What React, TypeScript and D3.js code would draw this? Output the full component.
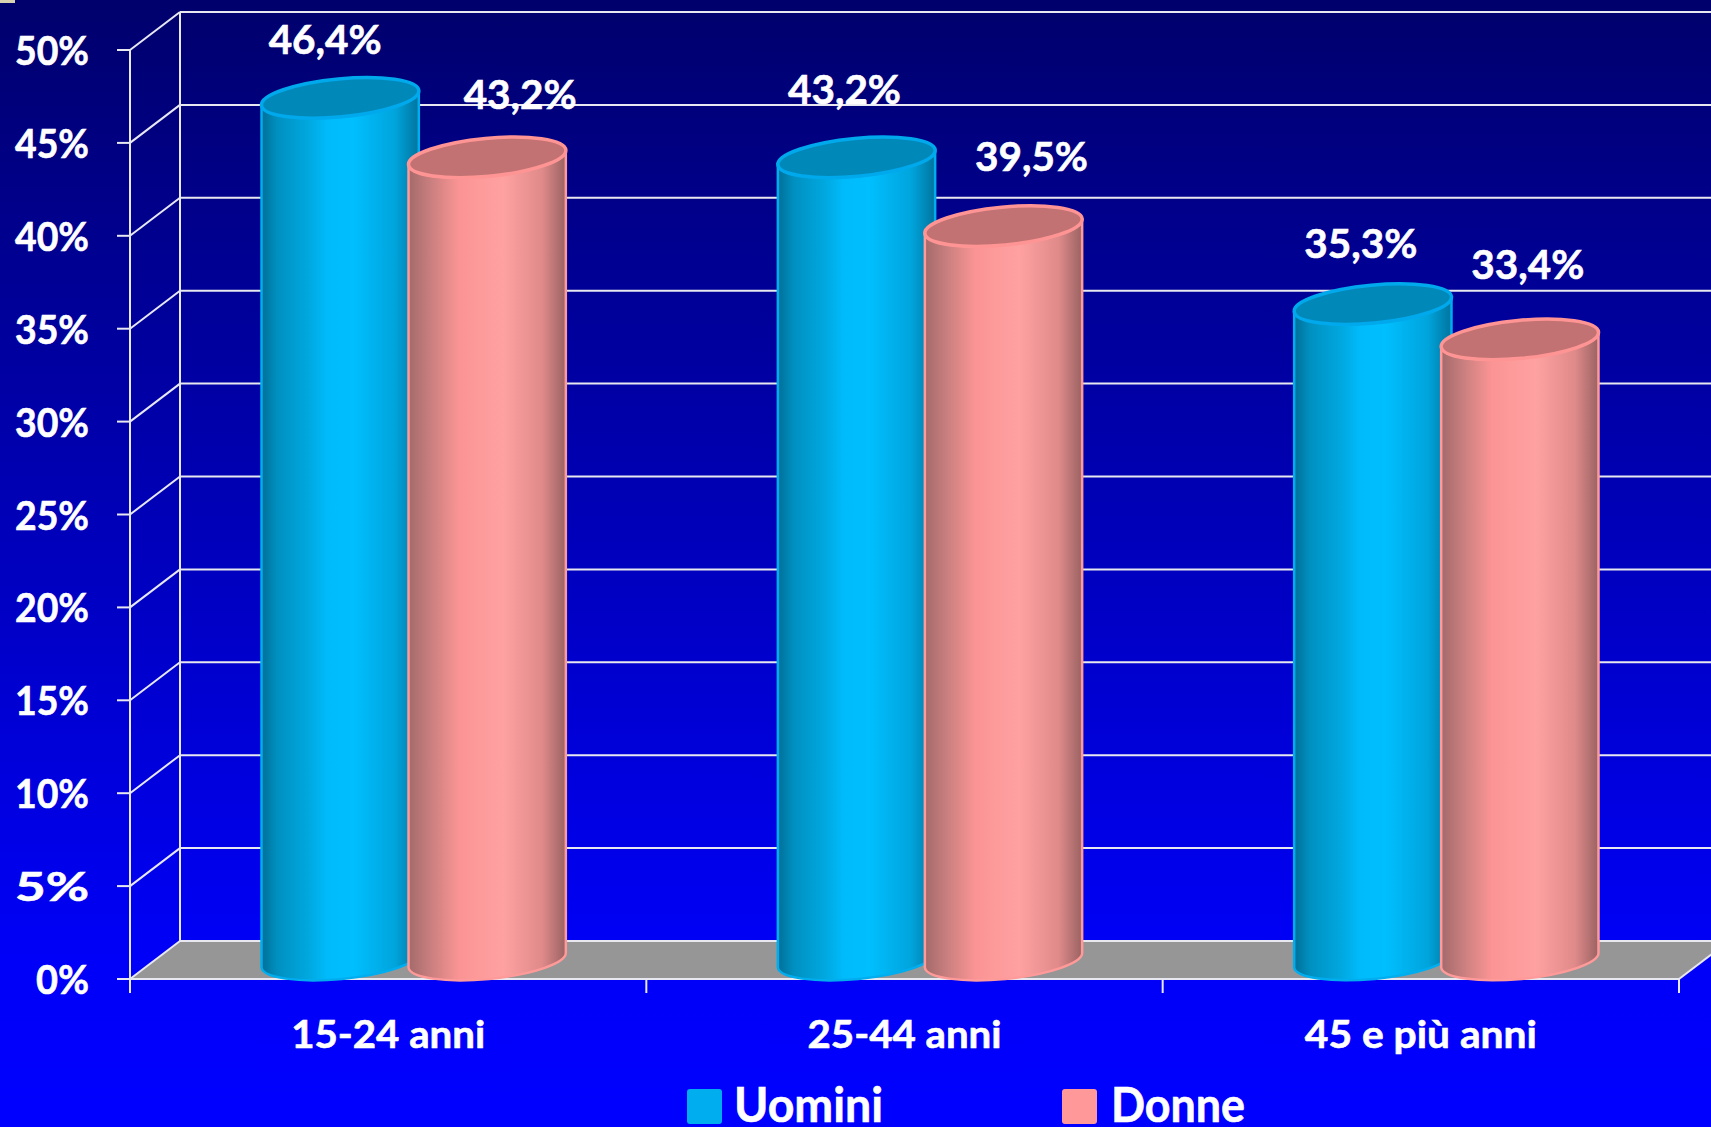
import React from "react";
import * as d3 from "d3";

const categories = ["15-24 anni", "25-44 anni", "45 e più anni"];
const seriesNames = ["Uomini", "Donne"];
const uomini = [46.4, 43.2, 35.3];
const donne = [43.2, 39.5, 33.4];
const yTicks = [0, 5, 10, 15, 20, 25, 30, 35, 40, 45, 50];

const W = 1711, H = 1127;
const FONT = "'Lato','Open Sans',sans-serif";
const depthX = 50, depthY = 38;
const y = d3.scaleLinear().domain([0, 50]).range([979, 50]);
const x = d3.scaleBand<string>().domain(categories).range([130, 1679]);
const fmt = (v: number) => v.toFixed(1).replace(".", ",") + "%";

const rx = 79, ry = 19, tilt = -5.4;
const tr = (tilt * Math.PI) / 180;
const ex = rx * Math.cos(tr), ey = rx * Math.sin(tr);

// label offsets from the bar's centre and value height (layout, not data)
const labelDx = [[-15, 33], [-12, 28], [-12, 8]];
const labelDy = [[-63, -67], [-72, -74], [-65, -79]];
const categoryWidths = [194, 194, 232];
const legendWidths = [149, 134];

function Cyl({ cx, v, kind }: { cx: number; v: number; kind: string }) {
  const top = y(v) - depthY / 2;
  const bot = y(0) - depthY / 2;
  const body = `M${cx - ex},${top - ey} L${cx - ex},${bot - ey} A${rx},${ry} ${tilt} 0 0 ${cx + ex},${bot + ey} L${cx + ex},${top + ey} A${rx},${ry} ${tilt} 0 1 ${cx - ex},${top - ey} Z`;
  const blue = kind === "b";
  return (
    <g>
      <path d={body} fill={`url(#grad-${kind})`} stroke={blue ? "#00aeef" : "#ff9a9a"} strokeWidth={2.5} />
      <ellipse
        cx={cx} cy={top} rx={rx} ry={ry}
        transform={`rotate(${tilt} ${cx} ${top})`}
        fill={blue ? "#0088b8" : "#c27272"}
        stroke={blue ? "#00a8ec" : "#ff9494"} strokeWidth={3.5}
      />
    </g>
  );
}

export default function App() {
  const xs = categories.map((c) => x(c) as number);
  const bw = x.bandwidth();
  const centers = (i: number) => {
    const mid = xs[i] + bw / 2 + depthX / 2;
    return [mid - 73, mid + 74];
  };
  return (
    <svg width={W} height={H} viewBox={`0 0 ${W} ${H}`} style={{ position: "fixed", left: 0, top: 0, display: "block" }}>
      <defs>
        <linearGradient id="bg" x1="0" y1="0" x2="0" y2="1">
          <stop offset="0" stopColor="#00006c" />
          <stop offset="0.85" stopColor="#0000f8" />
          <stop offset="1" stopColor="#0000ff" />
        </linearGradient>
        <linearGradient id="grad-b" x1="0" y1="0" x2="1" y2="0">
          <stop offset="0" stopColor="#006f98" />
          <stop offset="0.1" stopColor="#0090c0" />
          <stop offset="0.3" stopColor="#00a8e0" />
          <stop offset="0.42" stopColor="#00bbfb" />
          <stop offset="0.58" stopColor="#00bfff" />
          <stop offset="0.85" stopColor="#00a4dc" />
          <stop offset="1" stopColor="#00749e" />
        </linearGradient>
        <linearGradient id="grad-p" x1="0" y1="0" x2="1" y2="0">
          <stop offset="0" stopColor="#a46a6a" />
          <stop offset="0.15" stopColor="#cc8080" />
          <stop offset="0.32" stopColor="#fb9494" />
          <stop offset="0.6" stopColor="#ffa1a1" />
          <stop offset="0.85" stopColor="#e08a8a" />
          <stop offset="1" stopColor="#9a6262" />
        </linearGradient>
      </defs>
      <rect width={W} height={H} fill="url(#bg)" />
      <rect width={15} height={3} fill="#d8d2b0" />

      <polygon
        points={`130,${y(0)} 180,${y(0) - depthY} ${1679 + depthX},${y(0) - depthY} 1679,${y(0)}`}
        fill="#969696"
      />
      <g stroke="#e8e8f0" strokeWidth={2} fill="none">
        {yTicks.map((t) => (
          <g key={t}>
            <line x1={117} x2={130} y1={y(t)} y2={y(t)} />
            <line x1={130} x2={180} y1={y(t)} y2={y(t) - depthY} />
            <line x1={180} x2={W} y1={y(t) - depthY} y2={y(t) - depthY} />
          </g>
        ))}
        <line x1={130} x2={130} y1={y(50)} y2={y(0) + 14} />
        <line x1={180} x2={180} y1={y(50) - depthY} y2={y(0) - depthY} />
        <line x1={117} x2={1679} y1={y(0)} y2={y(0)} />
        {[...xs, 1679].map((px) => (
          <line key={px} x1={px} x2={px} y1={y(0)} y2={y(0) + 14} />
        ))}
        <line x1={1679} x2={1679 + depthX} y1={y(0)} y2={y(0) - depthY} />
      </g>

      {categories.map((c, i) => {
        const [c1, c2] = centers(i);
        return (
          <g key={c}>
            <Cyl cx={c1} v={uomini[i]} kind="b" />
            <Cyl cx={c2} v={donne[i]} kind="p" />
          </g>
        );
      })}

      <g fill="#fff" stroke="#fff" strokeWidth={0.6} fontFamily={FONT} fontWeight={700}>
        {yTicks.map((t) => (
          <text key={t} x={89} y={y(t) + 15} textAnchor="end" fontSize={40} textLength={t === 0 ? 53 : 74} lengthAdjust="spacingAndGlyphs">{t}%</text>
        ))}
        {categories.map((c, i) => (
          <text key={c} x={xs[i] + bw / 2} y={1048} textAnchor="middle" fontSize={38} textLength={categoryWidths[i]} lengthAdjust="spacingAndGlyphs">{c}</text>
        ))}
        {categories.map((c, i) => {
          const cs = centers(i);
          return [uomini[i], donne[i]].map((v, j) => (
            <text key={c + j} x={cs[j] + labelDx[i][j]} y={y(v) + labelDy[i][j]} textAnchor="middle" fontSize={41} textLength={113} lengthAdjust="spacingAndGlyphs">{fmt(v)}</text>
          ));
        })}
        <rect x={687} y={1089} width={35} height={35} rx={3} fill="#00aeef" stroke="none" />
        <text x={734} y={1122} fontSize={48} textLength={legendWidths[0]} lengthAdjust="spacingAndGlyphs">{seriesNames[0]}</text>
        <rect x={1062} y={1089} width={35} height={35} rx={3} fill="#ff9999" stroke="none" />
        <text x={1111} y={1122} fontSize={48} textLength={legendWidths[1]} lengthAdjust="spacingAndGlyphs">{seriesNames[1]}</text>
      </g>
    </svg>
  );
}
